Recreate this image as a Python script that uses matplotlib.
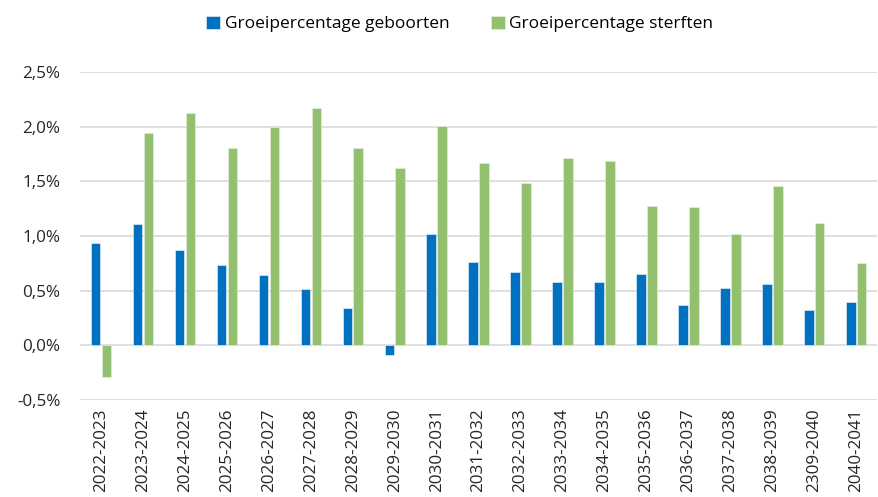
import matplotlib.pyplot as plt
import numpy as np

periods = ['2022-2023', '2023-2024', '2024-2025', '2025-2026', '2026-2027',
           '2027-2028', '2028-2029', '2029-2030', '2030-2031', '2031-2032',
           '2032-2033', '2033-2034', '2034-2035', '2035-2036', '2036-2037',
           '2037-2038', '2038-2039', '2309-2040', '2040-2041']
geboorten = [0.94, 1.11, 0.875, 0.74, 0.646, 0.515, 0.341, -0.085, 1.02,
             0.76, 0.67, 0.582, 0.579, 0.655, 0.366, 0.527, 0.564, 0.323, 0.40]
sterften = [-0.29, 1.94, 2.13, 1.805, 1.994, 2.174, 1.808, 1.622, 2.01,
            1.665, 1.488, 1.713, 1.683, 1.277, 1.262, 1.018, 1.46, 1.122, 0.756]
yticks = [-0.5, 0.0, 0.5, 1.0, 1.5, 2.0, 2.5]

plt.rcParams['font.family'] = ['Open Sans', 'DejaVu Sans']

fig = plt.figure(figsize=(8.79, 4.97), dpi=100)
ax = fig.add_axes([0.091, 0.195, 0.907, 0.66])

x = np.arange(len(periods))
w = 0.225
ax.bar(x - 0.13, geboorten, w, color='#0070C0', edgecolor='#dbe8f5', linewidth=0.5,
       label='Groeipercentage geboorten', zorder=3)
ax.bar(x + 0.13, sterften, w, color='#92C06E', edgecolor='#e4efda', linewidth=0.5,
       label='Groeipercentage sterften', zorder=3)

ax.set_xlim(-0.5, len(periods) - 0.5)
ax.set_ylim(-0.5, 2.5)
ax.set_yticks(yticks)
ax.set_yticklabels([('%.1f%%' % v).replace('.', ',') for v in yticks])
ax.set_xticks(x)
ax.set_xticklabels(periods, rotation=90)
ax.tick_params(length=0, labelsize=12.3, colors='#262626')
ax.tick_params(axis='y', pad=14)
ax.tick_params(axis='x', pad=6)
ax.grid(axis='y', color='#d9d9d9', linewidth=1.2, zorder=0)
for s in ax.spines.values():
    s.set_visible(False)

fig.legend(loc='upper center', bbox_to_anchor=(0.523, 1.0), ncol=2, frameon=False,
           fontsize=12.5, handlelength=0.8, handleheight=0.8, handletextpad=0.25,
           columnspacing=2.4)

plt.savefig('out.png', dpi=100)
